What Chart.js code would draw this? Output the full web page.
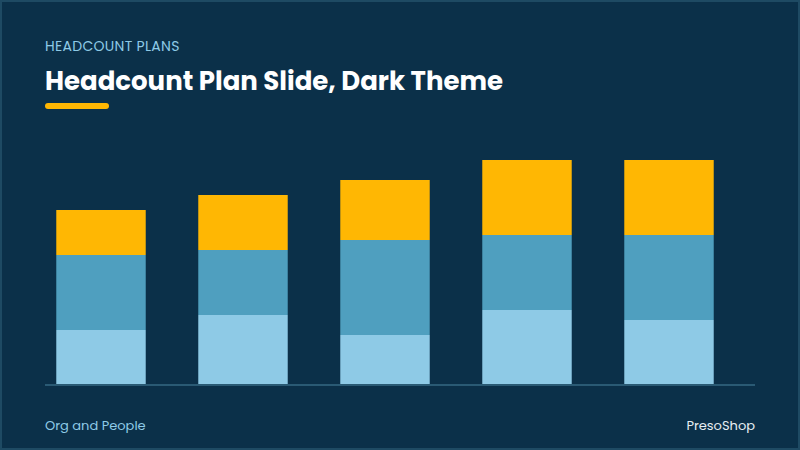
<!DOCTYPE html>
<html>
<head>
<meta charset="utf-8">
<script src="https://cdn.jsdelivr.net/npm/chart.js@4/dist/chart.umd.min.js"></script>
<style>
  html, body { margin: 0; padding: 0; }
  body { width: 800px; height: 450px; background: #0b3049; position: relative; overflow: hidden; font-family: Poppins, "Open Sans", sans-serif; }
  .frame { position: absolute; left: 0; top: 0; width: 796px; height: 446px; border: 2px solid #1e4a63; }
  .kicker { position: absolute; left: 45px; top: 36px; color: #8ecae6; font-size: 14px; letter-spacing: 0.3px; }
  .title { position: absolute; left: 45px; top: 62px; color: #ffffff; font-size: 26px; font-weight: bold; }
  .underline { position: absolute; left: 45px; top: 103px; width: 64px; height: 6px; border-radius: 3px; background: #ffb703; }
  .baseline { position: absolute; left: 45px; top: 384px; width: 710px; height: 2px; background: #2a5a74; }
  .foot { position: absolute; top: 416px; font-size: 13px; }
  .left { left: 45px; color: #8ecae6; }
  .right { right: 45px; color: #e6eef3; }
  #wrap { position: absolute; left: 30px; top: 135px; width: 710px; height: 250px; }
</style>
</head>
<body>
<div class="frame"></div>
<div class="kicker">HEADCOUNT PLANS</div>
<div class="title">Headcount Plan Slide, Dark Theme</div>
<div class="underline"></div>
<div id="wrap"><canvas id="chart"></canvas></div>
<div class="baseline"></div>
<div class="foot left">Org and People</div>
<div class="foot right">PresoShop</div>
<script>
const categories = ["Q1", "Q2", "Q3", "Q4", "Q5"];
const current = [22, 28, 20, 30, 26];
const planned = [30, 26, 38, 30, 34];
const newHires = [18, 22, 24, 30, 30];

new Chart(document.getElementById("chart").getContext("2d"), {
    type: "bar",
    data: {
        labels: categories,
        datasets: [
            { label: "Current", data: current, backgroundColor: "#8ecae6" },
            { label: "Planned", data: planned, backgroundColor: "#4f9fbf" },
            { label: "New hires", data: newHires, backgroundColor: "#ffb703" }
        ]
    },
    options: {
        responsive: true,
        maintainAspectRatio: false,
        animation: false,
        layout: { padding: 0 },
        datasets: { bar: { barPercentage: 0.63, categoryPercentage: 1 } },
        plugins: { legend: { display: false }, tooltip: { enabled: false } },
        scales: {
            x: { stacked: true, display: false },
            y: { stacked: true, display: false, min: 0, max: 100 }
        }
    }
});
</script>
</body>
</html>
